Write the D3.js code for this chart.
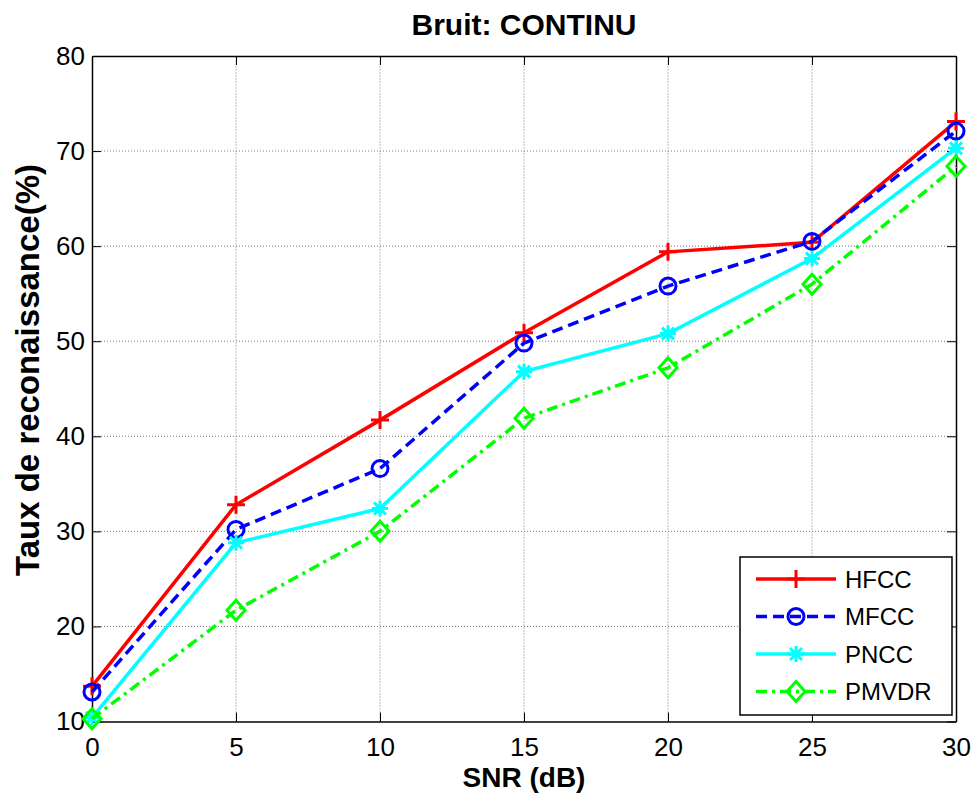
<!DOCTYPE html>
<html>
<head>
<meta charset="utf-8">
<script src="https://cdn.jsdelivr.net/npm/d3@7/dist/d3.min.js"></script>
<style>
  html, body { margin: 0; padding: 0; background: #fff; }
  svg { display: block; }
  text { font-family: Arial, "Liberation Sans", sans-serif; }
</style>
</head>
<body>
<svg id="chart" width="971" height="796"></svg>
<script>
// SNR levels (dB)
const snr = [0, 5, 10, 15, 20, 25, 30];
// Recognition rates (%) per feature set
const hfcc  = [13.7, 32.8, 41.7, 50.9, 59.4, 60.4, 73.1];
const mfcc  = [13.1, 30.2, 36.6, 49.8, 55.8, 60.5, 72.1];
const pncc  = [10.4, 28.8, 32.4, 46.8, 50.8, 58.7, 70.3];
const pmvdr = [10.3, 21.7, 30.0, 41.9, 47.2, 56.0, 68.4];
// Axis ticks
const xTicks = [0, 5, 10, 15, 20, 25, 30];
const yTicks = [10, 20, 30, 40, 50, 60, 70, 80];
const seriesNames = ["HFCC", "MFCC", "PNCC", "PMVDR"];

const series = [
  { name: seriesNames[0], values: hfcc,  color: "#ff0000", dash: null,       marker: "plus" },
  { name: seriesNames[1], values: mfcc,  color: "#0000ff", dash: "11,6",     marker: "circle" },
  { name: seriesNames[2], values: pncc,  color: "#00ffff", dash: null,       marker: "star" },
  { name: seriesNames[3], values: pmvdr, color: "#00ff00", dash: "11,5,3,5", marker: "diamond" }
];

const svg = d3.select("#chart");
const W = 971, H = 796;
const m = { left: 92, right: W - 956, top: 56, bottom: H - 721.5 };
const x = d3.scaleLinear().domain([0, 30]).range([m.left, W - m.right]);
const y = d3.scaleLinear().domain([10, 80]).range([H - m.bottom, m.top]);

// Dotted grid
const grid = svg.append("g").attr("stroke", "#7a7a7a").attr("stroke-width", 1).attr("stroke-dasharray", "1,2");
grid.selectAll("line.v").data(xTicks.slice(1, -1)).join("line")
  .attr("x1", d => x(d)).attr("x2", d => x(d)).attr("y1", y(10)).attr("y2", y(80));
grid.selectAll("line.h").data(yTicks.slice(1, -1)).join("line")
  .attr("x1", x(0)).attr("x2", x(30)).attr("y1", d => y(d)).attr("y2", d => y(d));

// Axes with inward ticks, box on all sides
const tickLen = 9;
const fontTick = "26px";
const axB = svg.append("g").attr("transform", `translate(0,${y(10)})`)
  .call(d3.axisBottom(x).tickValues(xTicks).tickSizeInner(-tickLen).tickSizeOuter(0).tickPadding(16));
const axT = svg.append("g").attr("transform", `translate(0,${y(80)})`)
  .call(d3.axisTop(x).tickValues(xTicks).tickSizeInner(-tickLen).tickSizeOuter(0).tickFormat(""));
const axL = svg.append("g").attr("transform", `translate(${x(0)},0)`)
  .call(d3.axisLeft(y).tickValues(yTicks).tickSizeInner(-tickLen).tickSizeOuter(0).tickPadding(7));
const axR = svg.append("g").attr("transform", `translate(${x(30)},0)`)
  .call(d3.axisRight(y).tickValues(yTicks).tickSizeInner(-tickLen).tickSizeOuter(0).tickFormat(""));
[axB, axT, axL, axR].forEach(a => {
  a.select(".domain").attr("stroke", "#000").attr("stroke-width", 1.5);
  a.selectAll(".tick line").attr("stroke", "#000").attr("stroke-width", 1);
  a.selectAll("text").attr("font-size", fontTick).attr("fill", "#000")
    .attr("font-family", "Arial, 'Liberation Sans', sans-serif");
});

// Marker symbols
function drawMarker(g, type, color, cx, cy) {
  const s = g.append("g").attr("transform", `translate(${cx},${cy})`)
    .attr("fill", "none").attr("stroke", color).attr("stroke-width", 3);
  if (type === "plus") {
    s.append("path").attr("d", "M-9,0H9M0,-9V9");
  } else if (type === "circle") {
    s.append("circle").attr("r", 8);
  } else if (type === "star") {
    s.append("path").attr("d", "M-8,0H8M0,-8V8M-6,-6L6,6M-6,6L6,-6");
  } else if (type === "diamond") {
    s.append("path").attr("d", "M0,-10L9,0L0,10L-9,0Z");
  }
}

const line = d3.line().x((d, i) => x(snr[i])).y(d => y(d));
const plot = svg.append("g");
series.forEach(s => {
  plot.append("path").datum(s.values)
    .attr("d", line).attr("fill", "none").attr("stroke", s.color)
    .attr("stroke-width", 3.5).attr("stroke-dasharray", s.dash);
  s.values.forEach((v, i) => drawMarker(plot, s.marker, s.color, x(snr[i]), y(v)));
});

// Legend
const lg = svg.append("g");
lg.append("rect").attr("x", 740).attr("y", 557).attr("width", 212).attr("height", 158)
  .attr("fill", "#fff").attr("stroke", "#000").attr("stroke-width", 1.5);
series.forEach((s, i) => {
  const ly = 579 + i * 37.5;
  lg.append("line").attr("x1", 756).attr("x2", 836).attr("y1", ly).attr("y2", ly)
    .attr("stroke", s.color).attr("stroke-width", 3.5).attr("stroke-dasharray", s.dash);
  drawMarker(lg, s.marker, s.color, 796, ly);
  lg.append("text").attr("x", 845).attr("y", ly).attr("dy", "0.36em")
    .attr("font-size", "24px").attr("fill", "#000").text(s.name);
});

// Titles
svg.append("text").attr("x", (x(0) + x(30)) / 2).attr("y", 35).attr("text-anchor", "middle")
  .attr("font-size", "30px").attr("font-weight", "bold").text("Bruit: CONTINU");
svg.append("text").attr("x", (x(0) + x(30)) / 2).attr("y", 787).attr("text-anchor", "middle")
  .attr("font-size", "28px").attr("font-weight", "bold").text("SNR (dB)");
svg.append("text").attr("transform", "translate(39,370) rotate(-90)")
  .attr("text-anchor", "middle")
  .attr("font-size", "33px").attr("font-weight", "bold").text("Taux de reconaissance(%)");
</script>
</body>
</html>
